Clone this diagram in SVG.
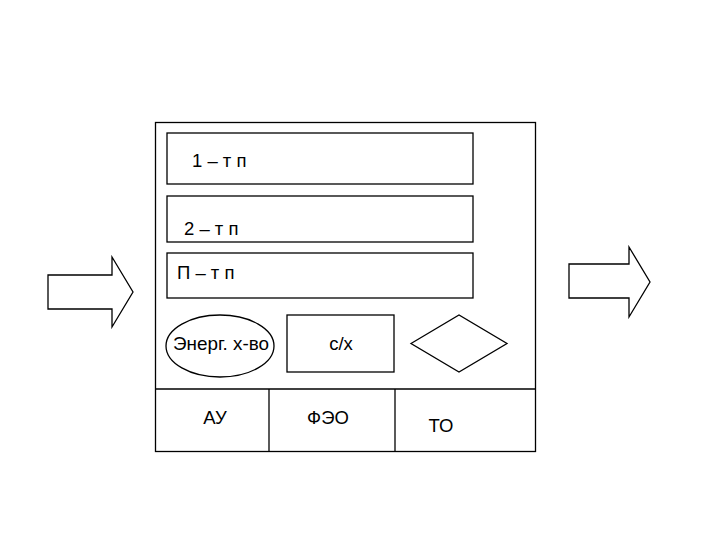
<svg xmlns="http://www.w3.org/2000/svg" width="720" height="540" viewBox="0 0 720 540">
<style>
.s{fill:none;stroke:#000;stroke-width:1.3}
.w{fill:#fff;stroke:#000;stroke-width:1.3}
text{font-family:"Liberation Sans",Arial,sans-serif;font-size:18.5px;fill:#000}
.c{text-anchor:middle}
</style>
<rect width="720" height="540" fill="#fff"/>
<g id="arrow-in"><polygon class="w" points="48,275 112,275 112,257 133,292 112,327 112,309 48,309"/></g>
<g id="arrow-out"><polygon class="w" points="569,264 629,264 629,247 650,282 629,317 629,298 569,298"/></g>
<g id="frame">
<rect class="s" x="155.5" y="122.5" width="380" height="329"/>
<line class="s" x1="155.5" y1="389" x2="535.5" y2="389"/>
<line class="s" x1="269" y1="389" x2="269" y2="451.5"/>
<line class="s" x1="395" y1="389" x2="395" y2="451.5"/>
</g>
<g id="tp1"><rect class="s" x="167" y="133" width="306" height="51"/><text x="192" y="167">1 – т п</text></g>
<g id="tp2"><rect class="s" x="167" y="196" width="306" height="46"/><text x="184" y="235">2 – т п</text></g>
<g id="tpn"><rect class="s" x="167" y="253" width="306" height="45"/><text x="177" y="279">П – т п</text></g>
<g id="energ"><ellipse class="s" cx="220" cy="346" rx="54" ry="31"/><text class="c" x="221" y="350" textLength="96" lengthAdjust="spacingAndGlyphs">Энерг. х-во</text></g>
<g id="sh"><rect class="s" x="287" y="315" width="107" height="57"/><text class="c" x="341" y="350">с/х</text></g>
<g id="diamond"><polygon class="s" points="411,343.5 459,315 507,343.5 459,372"/></g>
<g id="au"><text class="c" x="215" y="424">АУ</text></g>
<g id="feo"><text class="c" x="328" y="424">ФЭО</text></g>
<g id="to"><text class="c" x="441" y="432">ТО</text></g>
</svg>
